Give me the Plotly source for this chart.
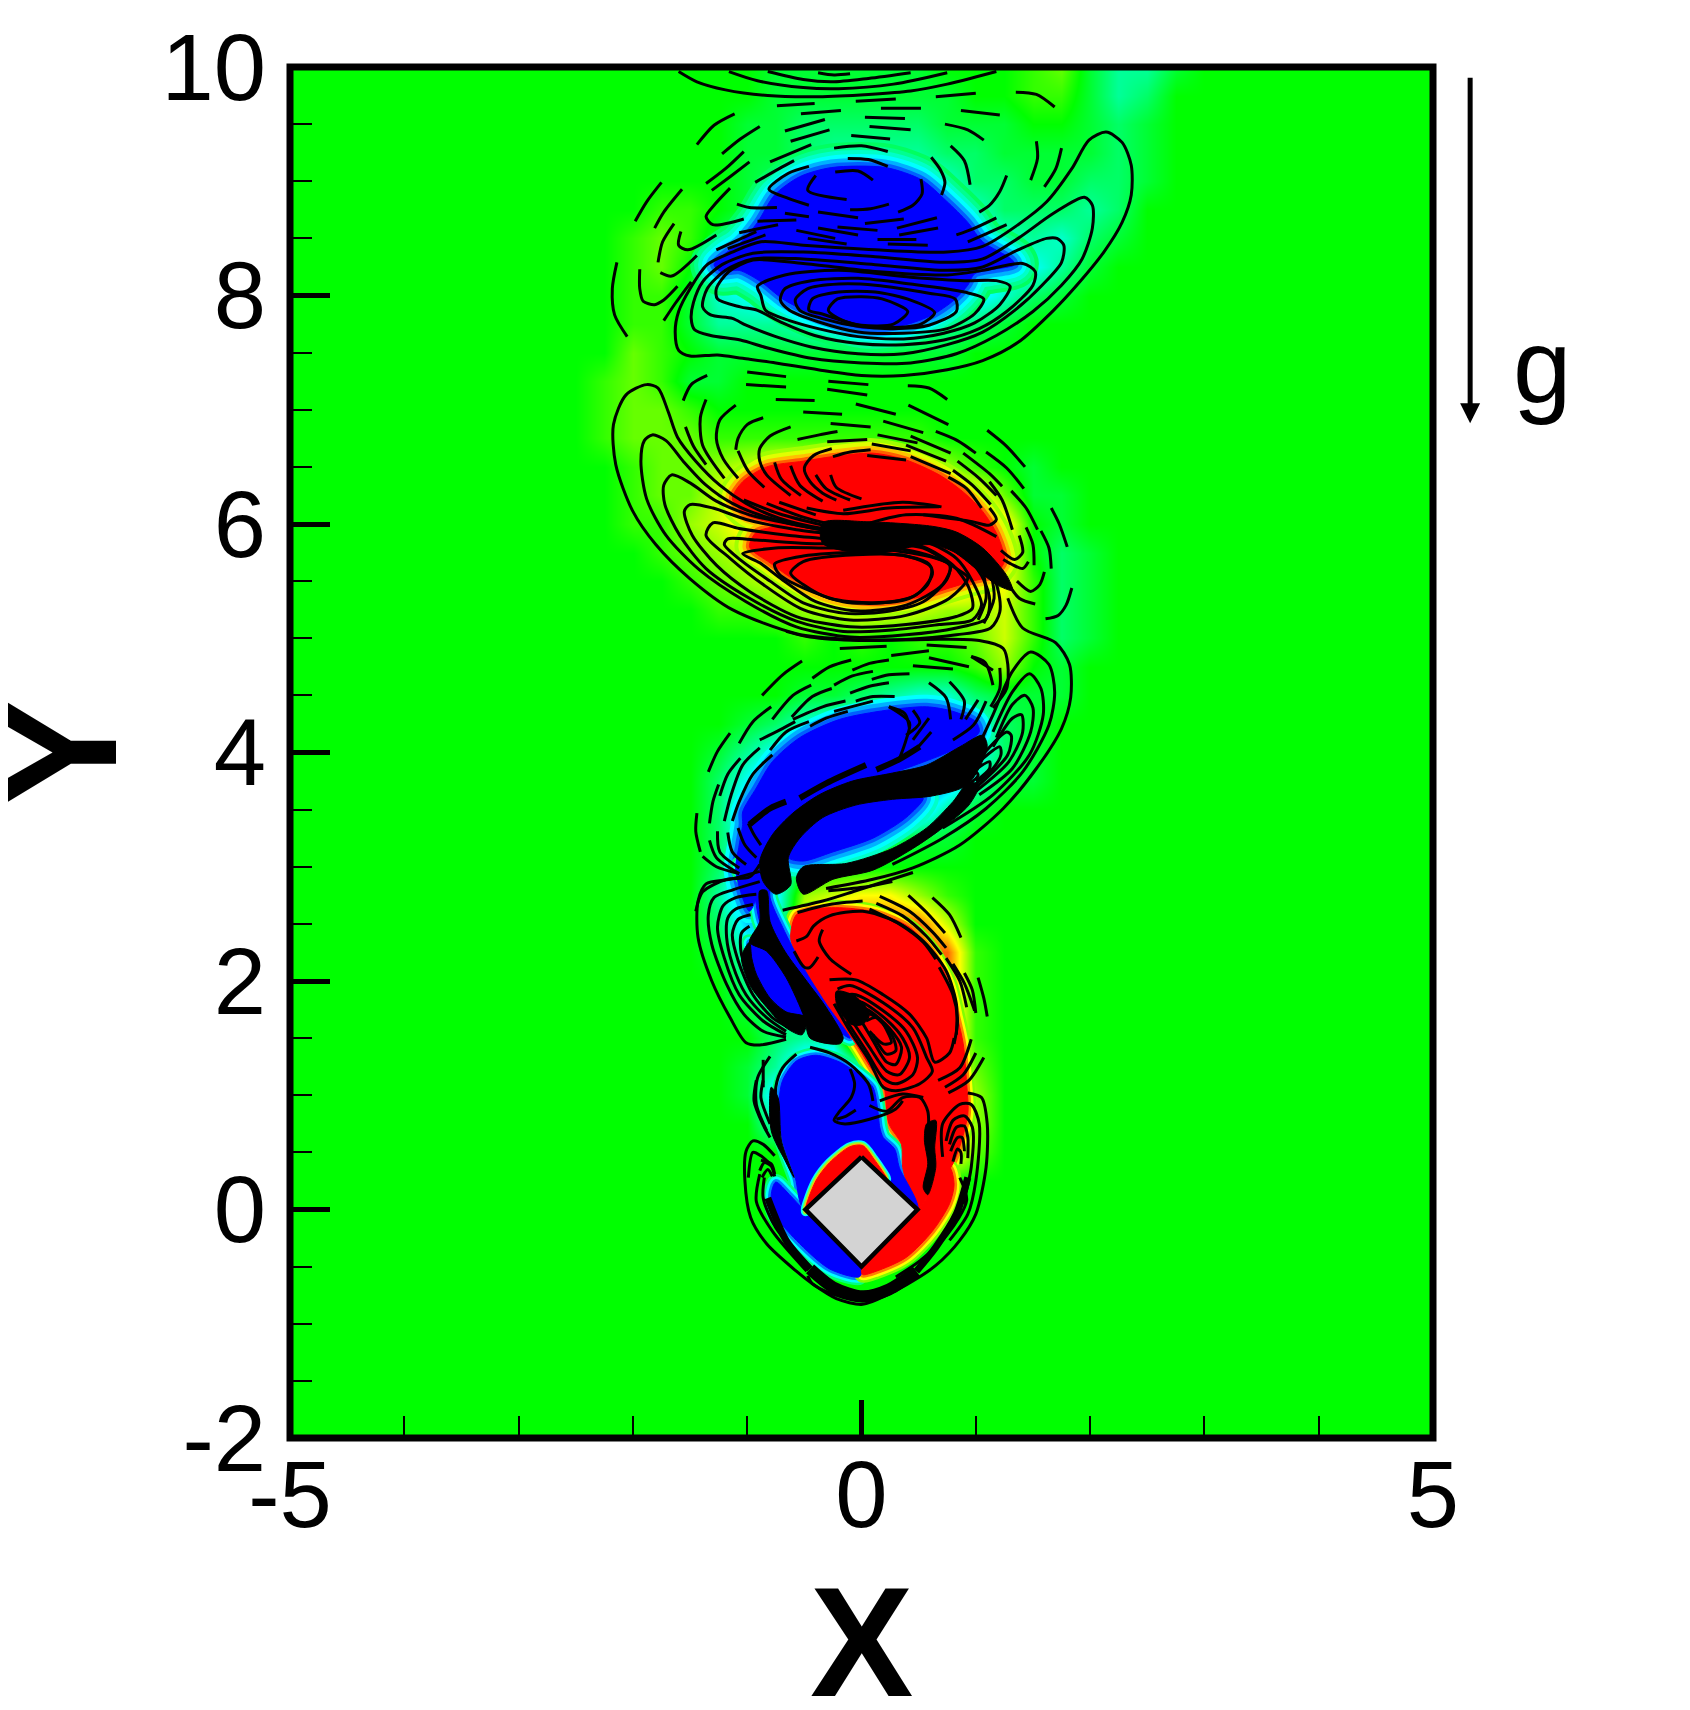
import plotly.graph_objects as go

# background field, tenths of the colour range, rows from y=10 down to y=-1
GRID_X = [-3, -2.75, -2.5, -2.25, -2, -1.75, -1.5, -1.25, -1, -.75, -.5, -.25, 0, .25, .5, .75, 1, 1.25, 1.5, 1.75, 2, 2.25, 2.5, 2.75, 3]
GRID_Y = [10, 9.75, 9.5, 9.25, 9, 8.75, 8.5, 8.25, 8, 7.75, 7.5, 7.25, 7, 6.75, 6.5, 6.25, 6, 5.75, 5.5, 5.25, 5, 4.75, 4.5, 4.25, 4, 3.75, 3.5, 3.25, 3, 2.75, 2.5, 2.25, 2, 1.75, 1.5, 1.25, 1, .75, .5, .25, 0, -.25, -.5, -.75, -1]
FIELD = [
    [0, 0, 0, 0, 0, 0, 0, 0, 0, -1, -1, -1, -1, -1, -1, 0, 0, 0, 1, 2, -1, -3, -3, -1, 0],
    [0, 0, 0, 0, 0, 0, 0, 0, 0, -1, -1, -1, -1, -1, -1, -1, 0, 0, 1, 1, -1, -3, -2, 0, 0],
    [0, 0, 0, 0, 0, 0, 0, 0, -1, -1, -2, -2, -2, -2, -2, -1, -1, -1, 0, 0, -1, -2, -1, 0, 0],
    [0, 0, 0, 0, 0, 0, 0, 0, -1, -1, -2, -3, -3, -3, -3, -2, -2, -1, -1, -1, -1, -2, -1, 0, 0],
    [0, 0, 0, 0, 0, 0, 0, 0, -1, -2, -4, -5, -6, -6, -5, -4, -2, -2, -1, -1, -2, -2, -1, 0, 0],
    [0, 0, 0, 0, 0, 1, 1, 0, -1, -4, -6, -8, -8, -8, -7, -5, -4, -2, -2, -2, -3, -2, 0, 0, 0],
    [0, 0, 0, 0, 1, 2, 1, -1, -4, -6, -8, -8, -8, -8, -8, -7, -5, -4, -3, -4, -2, -1, 0, 0, 0],
    [0, 0, 0, 0, 1, 2, 0, -3, -7, -8, -8, -8, -8, -8, -8, -8, -7, -5, -5, -3, -1, 0, 0, 0, 0],
    [0, 0, 0, 0, 1, 1, -1, -4, -5, -6, -7, -8, -8, -8, -8, -7, -6, -4, -2, -1, 0, 0, 0, 0, 0],
    [0, 0, 0, 0, 1, 1, -1, -3, -3, -3, -4, -5, -6, -5, -4, -3, -2, -1, 0, 0, 0, 0, 0, 0, 0],
    [0, 0, 0, 0, 2, 1, 0, -1, -1, -1, -1, -1, -1, -1, -1, -1, 0, 0, 0, 0, 0, 0, 0, 0, 0],
    [0, 0, 0, 1, 2, 1, -1, -1, 0, 0, 0, 0, 0, 0, 0, 0, 0, 0, 0, 0, 0, 0, 0, 0, 0],
    [0, 0, 0, 1, 2, 2, 1, 0, 0, 0, 0, 0, 0, 0, 0, 0, 0, 0, 0, 0, 0, 0, 0, 0, 0],
    [0, 0, 0, 1, 2, 2, 2, 1, 1, 1, 1, 1, 1, 1, 1, 0, 0, 0, 0, 0, 0, 0, 0, 0, 0],
    [0, 0, 0, 0, 1, 2, 2, 3, 4, 5, 5, 5, 5, 5, 4, 3, 1, 0, -1, 0, 0, 0, 0, 0, 0],
    [0, 0, 0, 0, 1, 2, 2, 4, 7, 8, 8, 8, 8, 8, 8, 8, 6, 2, -1, -1, 0, 0, 0, 0, 0],
    [0, 0, 0, 0, 1, 1, 3, 4, 6, 8, 8, 8, 8, 8, 8, 8, 8, 6, 0, -1, 0, 0, 0, 0, 0],
    [0, 0, 0, 0, 0, 1, 2, 3, 4, 6, 8, 8, 8, 8, 8, 8, 8, 6, 0, -2, -1, 0, 0, 0, 0],
    [0, 0, 0, 0, 0, 0, 1, 2, 3, 4, 6, 8, 8, 8, 8, 8, 6, 5, 1, -2, -1, 0, 0, 0, 0],
    [0, 0, 0, 0, 0, 0, 0, 1, 1, 2, 3, 4, 5, 5, 4, 3, 3, 4, 1, -2, -1, 0, 0, 0, 0],
    [0, 0, 0, 0, 0, 0, 0, 0, 0, 0, 1, 0, 1, 0, 1, 1, 2, 4, 1, -2, -1, 0, 0, 0, 0],
    [0, 0, 0, 0, 0, 0, 0, 0, 0, 0, 0, 0, 0, 0, 0, 0, 1, 3, 0, -1, 0, 0, 0, 0, 0],
    [0, 0, 0, 0, 0, 0, 0, 0, 0, 0, -1, -1, -2, -3, -4, -4, -2, -1, -1, -1, 0, 0, 0, 0, 0],
    [0, 0, 0, 0, 0, 0, 0, 0, -1, -2, -4, -5, -5, -5, -5, -5, -5, -2, -1, 0, 0, 0, 0, 0, 0],
    [0, 0, 0, 0, 0, 0, 0, -1, -3, -5, -5, -5, -5, -5, -5, -5, -5, -2, -1, 0, 0, 0, 0, 0, 0],
    [0, 0, 0, 0, 0, 0, 0, -2, -5, -8, -8, -8, -8, -8, -8, -7, -4, -1, -1, 0, 0, 0, 0, 0, 0],
    [0, 0, 0, 0, 0, 0, 0, -2, -7, -8, -8, -8, -8, -8, -7, -3, -1, 0, 0, 0, 0, 0, 0, 0, 0],
    [0, 0, 0, 0, 0, 0, 0, -2, -5, -6, -6, -4, -3, -2, -1, -1, 0, 0, 0, 0, 0, 0, 0, 0, 0],
    [0, 0, 0, 0, 0, 0, 0, -2, -7, -6, -1, 0, 0, 0, 0, 0, 0, 0, 0, 0, 0, 0, 0, 0, 0],
    [0, 0, 0, 0, 0, 0, 0, -3, -8, -6, 3, 4, 5, 5, 3, 1, 0, 0, 0, 0, 0, 0, 0, 0, 0],
    [0, 0, 0, 0, 0, 0, 0, -2, -6, -6, 5, 8, 8, 8, 8, 4, 0, 0, 0, 0, 0, 0, 0, 0, 0],
    [0, 0, 0, 0, 0, 0, 0, -1, -4, -4, 5, 8, 8, 8, 8, 8, 1, 0, 0, 0, 0, 0, 0, 0, 0],
    [0, 0, 0, 0, 0, 0, 0, 0, -3, -6, 3, 8, 8, 8, 8, 8, 1, 0, 0, 0, 0, 0, 0, 0, 0],
    [0, 0, 0, 0, 0, 0, 0, 0, -1, -3, -4, 5, 8, 8, 8, 8, 1, 0, 0, 0, 0, 0, 0, 0, 0],
    [0, 0, 0, 0, 0, 0, 0, 0, 0, -2, -3, -3, 8, 8, 8, 8, 1, 0, 0, 0, 0, 0, 0, 0, 0],
    [0, 0, 0, 0, 0, 0, 0, 0, -1, -3, -7, -8, -4, 8, 8, 8, 2, 0, 0, 0, 0, 0, 0, 0, 0],
    [0, 0, 0, 0, 0, 0, 0, 0, -1, -6, -8, -8, -8, 8, 8, 8, 3, 0, 0, 0, 0, 0, 0, 0, 0],
    [0, 0, 0, 0, 0, 0, 0, 0, 0, -4, -8, -8, -8, 4, 8, 8, 3, 0, 0, 0, 0, 0, 0, 0, 0],
    [0, 0, 0, 0, 0, 0, 0, 0, 0, 0, -2, -2, -2, 0, 4, 8, 2, 0, 0, 0, 0, 0, 0, 0, 0],
    [0, 0, 0, 0, 0, 0, 0, 0, 0, 0, 0, 0, 0, 0, 0, 0, 0, 0, 0, 0, 0, 0, 0, 0, 0],
    [0, 0, 0, 0, 0, 0, 0, 0, 0, 0, 0, 0, 0, 0, 0, 0, 0, 0, 0, 0, 0, 0, 0, 0, 0],
    [0, 0, 0, 0, 0, 0, 0, 0, 0, 0, 0, 0, 0, 0, 0, 0, 0, 0, 0, 0, 0, 0, 0, 0, 0],
    [0, 0, 0, 0, 0, 0, 0, 0, 0, 0, 0, 0, 0, 0, 0, 0, 0, 0, 0, 0, 0, 0, 0, 0, 0],
    [0, 0, 0, 0, 0, 0, 0, 0, 0, 0, 0, 0, 0, 0, 0, 0, 0, 0, 0, 0, 0, 0, 0, 0, 0],
    [0, 0, 0, 0, 0, 0, 0, 0, 0, 0, 0, 0, 0, 0, 0, 0, 0, 0, 0, 0, 0, 0, 0, 0, 0],
]

# saturated patches
BLUE_TOP = [(-1.07, 8.45), (-.91, 8.64), (-.76, 8.88), (-.54, 9.04), (-.26, 9.12), (.21, 9.12), (.53, 9.01), (.74, 8.83), (.93, 8.64), (1.06, 8.47), (1.31, 8.32), (1.34, 8.27), (.99, 8.19), (.93, 8.09), (.81, 7.96), (.62, 7.83), (.37, 7.74), (.03, 7.71), (-.26, 7.78), (-.48, 7.86), (-.69, 7.97), (-.88, 8.12), (-1.07, 8.22), (-1.23, 8.21), (-1.29, 8.27), (-1.19, 8.37)]
RED_MID = [(-1.13, 6.22), (-1.04, 6.37), (-.83, 6.50), (-.51, 6.55), (-.25, 6.59), (.10, 6.62), (.39, 6.56), (.68, 6.43), (.89, 6.28), (1.06, 6.11), (1.19, 5.90), (1.25, 5.67), (1.15, 5.55), (.97, 5.50), (.77, 5.44), (.51, 5.36), (.10, 5.31), (-.28, 5.37), (-.60, 5.52), (-.80, 5.66), (-.98, 5.80), (-.92, 5.93), (-.75, 5.99), (-1.01, 6.08)]
BLUE_UP = [(-1.04, 3.48), (-.92, 3.69), (-.78, 3.92), (-.54, 4.13), (-.19, 4.29), (.22, 4.37), (.57, 4.40), (.80, 4.36), (1.00, 4.27), (1.03, 4.18), (.86, 4.05), (.27, 3.82), (-.37, 3.63), (-.78, 3.28), (-.89, 3.05), (-.89, 2.84), (-.98, 2.61), (-1.10, 2.96), (-1.07, 3.19), (-1.04, 3.37)]
BLUE_LOW = [(-.64, 3.08), (-.57, 3.25), (-.34, 3.43), (-.05, 3.54), (.27, 3.59), (.54, 3.60), (.39, 3.43), (.10, 3.25), (-.25, 3.13), (-.51, 3.05)]
BLUE_NECK = [(-1.07, 3.02), (-.80, 3.02), (-.80, 2.73), (-.69, 2.47), (-.51, 2.12), (-.31, 1.80), (-.10, 1.50), (-.28, 1.62), (-.51, 1.88), (-.72, 2.17), (-.89, 2.52), (-.95, 2.79), (-1.07, 2.96)]
BLUE_LENS = [(-.98, 2.34), (-.83, 2.26), (-.66, 2.06), (-.48, 1.71), (-.66, 1.73), (-.80, 1.85), (-.92, 2.06), (-.96, 2.20)]
BLUE_BASE = [(-.72, .95), (-.69, 1.13), (-.57, 1.30), (-.40, 1.35), (-.19, 1.29), (-.02, 1.18), (.10, 1.07), (.14, .89), (.16, .72), (.19, .63), (.29, .53), (.33, .37), (.49, -.02), (-.49, -.02), (-.58, .28), (-.69, .60)]
BLUE_RIBBON = [(-.75, .24), (-.79, .13), (-.76, -.04), (-.57, -.27), (-.28, -.52), (-.02, -.59), (0, -.53), (-.49, -.02), (-.63, .13)]
RED_BIG = [(-.62, 2.38), (-.57, 2.58), (-.43, 2.63), (-.16, 2.64), (.13, 2.60), (.42, 2.47), (.62, 2.26), (.77, 1.97), (.84, 1.68), (.89, 1.45), (.92, 1.10), (.93, .83), (.80, .40), (.58, .12), (.49, 0), (.36, .37), (.35, .57), (.24, .75), (.19, 1.10), (.10, 1.21), (-.05, 1.45), (-.22, 1.68), (-.40, 1.94), (-.54, 2.17)]
RED_CAP = [(-.49, -.02), (-.40, .25), (-.28, .41), (-.10, .55), (.01, .56), (.11, .44), (.22, .27), (0, .44)]
RED_RIBBON = [(0, -.53), (.48, -.03), (.58, .12), (.65, .28), (.77, .37), (.81, .22), (.77, .05), (.62, -.19), (.39, -.42), (.13, -.54), (.01, -.57)]

# places where the contours run together
DENSE_MID = [(-.34, 6.01), (.04, 6.02), (.62, 5.98), (.83, 5.93), (1.06, 5.79), (1.27, 5.55), (1.32, 5.42), (1.18, 5.47), (1.00, 5.61), (.80, 5.76), (.59, 5.82), (.10, 5.74), (-.34, 5.83)]
DENSE_HATCH = [(-.51, 3.00), (-.13, 3.03), (.27, 3.16), (.57, 3.34), (.80, 3.57), (.93, 3.73), (1.03, 3.72), (.94, 3.54), (.71, 3.34), (.45, 3.16), (.10, 2.97), (-.25, 2.89), (-.51, 2.76), (-.57, 2.90)]
DENSE_BAND = [(-.89, 3.05), (-.78, 3.28), (-.60, 3.47), (-.37, 3.63), (-.08, 3.75), (.27, 3.82), (.57, 3.89), (.86, 4.05), (1.06, 4.15), (1.10, 4.05), (.93, 3.72), (.62, 3.62), (.27, 3.59), (-.05, 3.54), (-.34, 3.43), (-.54, 3.25), (-.64, 3.08), (-.62, 2.84), (-.75, 2.76), (-.86, 2.87)]
DENSE_NECK = [(-.89, 2.79), (-.83, 2.79), (-.80, 2.52), (-.67, 2.26), (-.48, 2.00), (-.31, 1.77), (-.16, 1.50), (-.19, 1.45), (-.45, 1.50), (-.50, 1.68), (-.66, 2.03), (-.83, 2.26), (-.98, 2.34), (-.89, 2.52)]
DENSE_LENS = [(-.98, 2.34), (-1.05, 2.21), (-.98, 1.97), (-.83, 1.77), (-.66, 1.59), (-.52, 1.53), (-.48, 1.68), (-.66, 1.73), (-.80, 1.85), (-.92, 2.06), (-.96, 2.20)]
DENSE_SPIRAL = [(-.22, 1.91), (-.06, 1.87), (.07, 1.71), (.01, 1.62), (-.09, 1.62), (-.21, 1.77)]
DENSE_RIGHT = [(.57, .75), (.65, .78), (.64, .54), (.65, .37), (.58, .13), (.54, .19), (.58, .40), (.55, .61)]
DENSE_LEFT = [(-.79, 1.07), (-.73, .98), (-.70, .60), (-.59, .28), (-.67, .43), (-.79, .69)]
BASE_RING = [(-.45, -.52), (-.25, -.68), (.01, -.76), (.24, -.70), (.48, -.54)]
BASE_SIDES = [
    [(-.82, .10), (-.66, -.27), (-.45, -.52)],
    [(.48, -.54), (.65, -.33), (.83, -.04), (.93, .28)],
]
THICK_SPURS = [
    [(-.98, 3.37), (-.80, 3.51), (-.66, 3.57)],
    [(-.54, 3.60), (-.31, 3.73), (.04, 3.89)],
    [(.13, 3.85), (.33, 3.94), (.51, 4.05)],
]

# closed solid contours
CLOSED_TOP = [
    [(2.14, 9.43), (2.28, 9.34), (2.36, 9.14), (2.36, 8.88), (2.28, 8.64), (2.12, 8.38), (1.91, 8.12), (1.68, 7.87), (1.37, 7.59), (1.06, 7.43), (.75, 7.35), (.37, 7.30), (0, 7.30), (-.38, 7.35), (-.75, 7.41), (-1.04, 7.45), (-1.26, 7.48), (-1.50, 7.47), (-1.60, 7.52), (-1.63, 7.68), (-1.60, 7.86), (-1.50, 8.06), (-1.35, 8.27), (-1.13, 8.38), (-.88, 8.47), (-.51, 8.44), (.12, 8.40), (.75, 8.38), (1.06, 8.43), (1.37, 8.62), (1.62, 8.82), (1.84, 9.11), (1.99, 9.36)],
    [(1.95, 8.86), (2.02, 8.79), (2.02, 8.59), (1.93, 8.32), (1.75, 8.09), (1.50, 7.86), (1.18, 7.65), (.83, 7.49), (.43, 7.41), (0, 7.41), (-.44, 7.45), (-.82, 7.54), (-1.06, 7.61), (-1.32, 7.65), (-1.46, 7.70), (-1.49, 7.80), (-1.47, 7.94), (-1.39, 8.12), (-1.22, 8.27), (-.95, 8.37), (-.51, 8.38), (.12, 8.34), (.75, 8.29), (1.06, 8.32), (1.37, 8.50), (1.68, 8.72)],
    [(1.71, 8.50), (1.77, 8.44), (1.75, 8.29), (1.58, 8.09), (1.34, 7.87), (1.06, 7.68), (.75, 7.57), (.37, 7.49), (-.03, 7.49), (-.44, 7.55), (-.75, 7.64), (-1.01, 7.74), (-1.13, 7.80), (-1.32, 7.83), (-1.39, 7.90), (-1.35, 8.06), (-1.19, 8.22), (-.95, 8.32), (-.51, 8.32), (.12, 8.27), (.75, 8.22), (1.06, 8.25), (1.37, 8.40), (1.62, 8.50)],
    [(1.41, 8.28), (1.52, 8.21), (1.50, 8.09), (1.27, 7.86), (1.03, 7.71), (.72, 7.61), (.37, 7.57), (-.03, 7.58), (-.41, 7.65), (-.69, 7.76), (-.91, 7.87), (-1.06, 7.90), (-1.26, 7.97), (-1.27, 8.06), (-1.16, 8.21), (-.95, 8.31), (-.51, 8.28), (.12, 8.21), (.75, 8.18), (1.06, 8.22)],
    [(1.18, 8.13), (1.30, 8.08), (1.21, 7.92), (.99, 7.76), (.72, 7.67), (.37, 7.62), (-.03, 7.64), (-.38, 7.71), (-.63, 7.78), (-.84, 7.87), (-.88, 8.00), (-.91, 8.08), (-.67, 8.18), (-.20, 8.22), (.43, 8.16), (.90, 8.13)],
    [(1.07, 7.97), (.99, 7.84), (.75, 7.71), (.37, 7.67), (-.03, 7.68), (-.38, 7.77), (-.63, 7.87), (-.71, 7.96), (-.67, 8.06), (-.44, 8.13), (-.03, 8.15), (.43, 8.10), (.90, 8.03)],
    [(.82, 7.97), (.83, 7.86), (.59, 7.74), (.28, 7.71), (-.03, 7.73), (-.35, 7.80), (-.54, 7.87), (-.58, 7.96), (-.47, 8.06), (-.20, 8.10), (.12, 8.09), (.59, 8.02)],
    [(.64, 7.85), (.52, 7.75), (.24, 7.72), (-.03, 7.74), (-.35, 7.84), (-.46, 7.87), (-.43, 7.97), (-.20, 8.03), (.12, 8.03), (.43, 7.96)],
    [(.405, 7.86), (.28, 7.75), (0, 7.74), (-.16, 7.78), (-.29, 7.87), (-.21, 7.97), (0, 7.99), (.18, 7.97)],
]
CLOSED_MID = [
    [(-1.88, 7.22), (-1.78, 7.19), (-1.69, 6.98), (-1.61, 6.76), (-1.45, 6.55), (-1.24, 6.34), (-1.01, 6.18), (-.72, 6.05), (-.34, 5.96), (.24, 5.91), (.68, 5.89), (.94, 5.79), (1.12, 5.61), (1.19, 5.44), (1.21, 5.23), (1.13, 5.09), (.83, 5.03), (.39, 4.99), (-.10, 4.99), (-.57, 5.04), (-1.13, 5.25), (-1.50, 5.52), (-1.80, 5.82), (-2.00, 6.11), (-2.15, 6.52), (-2.17, 6.87), (-2.06, 7.13)],
    [(-1.83, 6.78), (-1.71, 6.73), (-1.56, 6.55), (-1.36, 6.34), (-1.13, 6.18), (-.80, 6.05), (-.34, 5.95), (.24, 5.90), (.65, 5.86), (.89, 5.74), (1.05, 5.55), (1.12, 5.35), (1.09, 5.17), (.83, 5.09), (.39, 5.03), (-.10, 5.01), (-.57, 5.10), (-1.01, 5.32), (-1.42, 5.60), (-1.71, 5.90), (-1.88, 6.22), (-1.93, 6.55), (-1.90, 6.73)],
    [(-1.66, 6.43), (-1.50, 6.36), (-1.27, 6.20), (-.98, 6.08), (-.57, 5.99), (-.05, 5.90), (.54, 5.85), (.83, 5.70), (.97, 5.50), (1.05, 5.29), (.97, 5.16), (.68, 5.12), (.24, 5.07), (-.16, 5.06), (-.57, 5.15), (-.98, 5.35), (-1.36, 5.61), (-1.59, 5.90), (-1.72, 6.17), (-1.73, 6.34)],
    [(-1.50, 6.17), (-1.30, 6.14), (-1.01, 6.04), (-.57, 5.95), (-.05, 5.89), (.54, 5.80), (.80, 5.64), (.94, 5.44), (.97, 5.26), (.83, 5.19), (.39, 5.12), (-.10, 5.10), (-.57, 5.19), (-.98, 5.41), (-1.27, 5.64), (-1.48, 5.90), (-1.55, 6.11)],
    [(-1.30, 6.01), (-1.07, 5.96), (-.63, 5.90), (-.05, 5.85), (.54, 5.79), (.83, 5.61), (.93, 5.53), (.77, 5.35), (.39, 5.20), (-.10, 5.16), (-.51, 5.25), (-.86, 5.47), (-1.15, 5.70), (-1.36, 5.90)],
    [(-1.17, 5.87), (-.92, 5.86), (-.48, 5.83), (.10, 5.82), (.54, 5.74), (.77, 5.64), (.75, 5.52), (.54, 5.32), (.19, 5.23), (-.16, 5.22), (-.51, 5.31), (-.80, 5.50), (-1.04, 5.67), (-1.20, 5.82)],
    [(-1.04, 5.74), (-.75, 5.79), (-.34, 5.79), (.19, 5.78), (.65, 5.70), (.78, 5.64), (.71, 5.47), (.39, 5.29), (-.05, 5.24), (-.40, 5.32), (-.69, 5.51), (-.89, 5.66)],
    [(-.76, 5.65), (-.51, 5.72), (-.05, 5.75), (.39, 5.72), (.59, 5.65), (.62, 5.56), (.48, 5.38), (.19, 5.31), (-.16, 5.32), (-.51, 5.44), (-.72, 5.56)],
    [(-.62, 5.57), (-.51, 5.67), (-.05, 5.73), (.39, 5.72), (.61, 5.62), (.58, 5.47), (.42, 5.35), (.10, 5.31), (-.28, 5.35), (-.51, 5.47)],
]

# open solid contours
OPEN_TOP = [
    [(-1.60, 9.96), (-1.44, 9.87), (-1.19, 9.80), (-.82, 9.75), (-.38, 9.74), (.06, 9.76), (.43, 9.79), (.75, 9.85), (.99, 9.91), (1.18, 9.96)],
    [(-1.16, 9.96), (-.91, 9.88), (-.51, 9.82), (-.20, 9.81), (.28, 9.85), (.75, 9.95)],
    [(-.82, 9.96), (-.51, 9.89), (-.26, 9.87), (.06, 9.90), (.43, 9.95)],
    [(-.38, 9.95), (-.24, 9.93), (-.10, 9.94)],
]
OPEN_MID = [
    [(-1.03, 6.21), (-.72, 6.09), (-.34, 5.99)],
    [(-.83, 6.18), (-.51, 6.06), (-.28, 6.00)],
    [(-.72, 6.19), (-.40, 6.08)],
    [(-.48, 6.14), (-.16, 6.09), (.24, 6.14), (.68, 6.15)],
    [(-.16, 6.12), (.36, 6.19), (.70, 6.15)],
    [(.01, 5.99), (.39, 6.08), (.83, 6.05), (1.18, 5.89)],
    [(.54, 6.08), (.97, 6.02), (1.12, 5.99), (1.18, 6.04), (1.12, 6.14)],
    [(1.13, 5.58), (1.16, 5.35), (1.07, 5.13)],
    [(1.06, 5.61), (1.09, 5.35), (1.02, 5.16)],
]
OPEN_LOBES = [
    [(1.28, 5.35), (1.41, 5.09), (1.70, 4.96), (1.82, 4.77), (1.83, 4.48), (1.75, 4.21), (1.53, 3.86), (1.24, 3.51), (.86, 3.19), (.45, 2.99), (.10, 2.89), (-.31, 2.81)],
    [(1.03, 4.07), (1.15, 4.33), (1.32, 4.71), (1.48, 4.88), (1.64, 4.77), (1.69, 4.53), (1.64, 4.24), (1.41, 3.83), (1.09, 3.51), (.71, 3.25), (.27, 3.02)],
    [(1.15, 4.18), (1.32, 4.53), (1.47, 4.69), (1.57, 4.56), (1.59, 4.33), (1.47, 3.98), (1.15, 3.63), (.71, 3.34)],
    [(1.18, 4.13), (1.32, 4.42), (1.43, 4.50), (1.50, 4.39), (1.48, 4.18), (1.32, 3.86), (1.03, 3.63)],
    [(1.15, 4.05), (1.32, 4.30), (1.40, 4.33), (1.41, 4.18), (1.29, 3.92), (1.00, 3.66)],
    [(1.06, 3.98), (1.27, 4.18), (1.31, 4.15), (1.28, 3.98), (1.00, 3.69)],
    [(1.03, 3.92), (1.21, 4.05), (1.22, 3.98), (1.15, 3.86), (.92, 3.66)],
    [(.97, 3.83), (1.12, 3.92), (1.12, 3.86), (1.00, 3.75)],
    [(.86, 3.78), (1.00, 3.83), (1.02, 3.80), (.94, 3.72)],
    [(-.66, 5.06), (-.45, 5.01), (-.02, 4.98), (.57, 4.99), (1.03, 4.98), (1.24, 4.91), (1.28, 4.77), (1.27, 4.56), (1.15, 4.39)],
    [(-1.45, 2.61), (-1.39, 2.78), (-1.18, 2.89), (-.98, 2.91), (-.89, 3.02)],
    [(.33, 3.94), (.39, 4.11), (.42, 4.26), (.24, 4.40)],
    [(.39, 4.15), (.51, 4.26), (.45, 4.37)],
    [(.45, 4.11), (.59, 4.30)],
    [(.48, 4.03), (.61, 4.18)],
]
OPEN_NECK = [
    [(-.89, 2.96), (-1.15, 2.89), (-1.36, 2.85), (-1.43, 2.70), (-1.43, 2.38), (-1.31, 2.00), (-1.15, 1.68), (-1.01, 1.46), (-.89, 1.44), (-.66, 1.49)],
    [(-.89, 2.87), (-1.12, 2.80), (-1.29, 2.73), (-1.34, 2.58), (-1.31, 2.32), (-1.18, 1.97), (-1.03, 1.71), (-.86, 1.56), (-.66, 1.51)],
    [(-.92, 2.76), (-1.10, 2.73), (-1.21, 2.66), (-1.26, 2.47), (-1.20, 2.20), (-1.07, 1.88), (-.86, 1.65), (-.66, 1.53)],
    [(-.95, 2.67), (-1.10, 2.63), (-1.17, 2.55), (-1.18, 2.38), (-1.13, 2.15), (-1.01, 1.88), (-.83, 1.68), (-.66, 1.56)],
    [(-.97, 2.58), (-1.08, 2.54), (-1.13, 2.41), (-1.08, 2.18), (-.95, 1.88), (-.78, 1.68), (-.63, 1.59)],
    [(-.98, 2.48), (-1.05, 2.42), (-1.05, 2.23), (-.92, 1.94), (-.78, 1.74)],
    [(-.28, 2.01), (-.05, 2.01), (.19, 1.88), (.42, 1.71), (.57, 1.50), (.64, 1.29), (.77, 1.37), (.81, 1.50)],
    [(-.21, 1.93), (-.10, 1.96), (.19, 1.81), (.45, 1.59), (.57, 1.33), (.62, 1.21), (.51, 1.10), (.30, 1.04), (.19, 1.07), (.07, 1.30), (-.10, 1.56), (-.24, 1.80)],
    [(-.19, 1.87), (-.05, 1.88), (.19, 1.74), (.39, 1.56), (.49, 1.33), (.45, 1.18), (.30, 1.10), (.19, 1.15), (.04, 1.39), (-.13, 1.65)],
    [(-.13, 1.84), (.01, 1.81), (.22, 1.66), (.36, 1.50), (.42, 1.33), (.33, 1.18), (.22, 1.21), (.07, 1.42), (-.08, 1.65)],
    [(-.08, 1.80), (.07, 1.74), (.24, 1.59), (.35, 1.42), (.30, 1.27), (.22, 1.29), (.10, 1.48), (-.02, 1.68)],
    [(-.02, 1.75), (.13, 1.68), (.27, 1.52), (.30, 1.39), (.22, 1.36), (.10, 1.53)],
    [(.04, 1.65), (.14, 1.68), (.24, 1.53), (.26, 1.46), (.19, 1.45), (.07, 1.56)],
    [(-.57, 2.35), (-.48, 2.39), (-.42, 2.48), (-.28, 2.57), (.01, 2.61), (.30, 2.52), (.54, 2.35), (.74, 2.09), (.83, 1.80), (.83, 1.53)],
    [(-.34, 2.45), (-.37, 2.35), (-.28, 2.20), (-.09, 2.06)],
    [(-.38, 2.21), (-.45, 2.12), (-.50, 2.12), (-.59, 2.26)],
    [(-.69, 2.62), (-.34, 2.70), (-.05, 2.79), (.45, 2.95)],
    [(-.56, 2.60), (-.28, 2.67), (.01, 2.70)],
    [(-.29, 2.79), (.01, 2.82), (.27, 2.87)],
]
OPEN_BASE = [
    [(-.10, 1.23), (-.06, 1.10), (-.09, .98), (-.19, .86), (-.24, .78), (-.16, .75), (.07, .79), (.30, .88), (.36, .95)],
    [(-.22, .79), (-.13, .82), (-.05, .87)],
    [(.07, .91), (.22, .86), (.36, .98), (.51, .98), (.58, .86), (.58, .60)],
    [(.16, .95), (.36, 1.01), (.54, .98)],
    [(-.80, 1.34), (-.91, 1.15), (-.92, .92), (-.83, .69)],
    [(-.86, 1.31), (-.86, 1.18), (-.86, 1.07)],
    [(-.57, 1.36), (-.69, 1.24), (-.75, 1.07), (-.73, .69)],
    [(-.45, 1.42), (-.28, 1.37), (-.10, 1.27), (.06, 1.10), (.10, .95)],
    [(.93, 1.02), (1.05, .98), (1.10, .75), (1.09, .37), (1.00, -.04), (.86, -.27), (.65, -.49), (.46, -.62), (.24, -.74), (.01, -.83), (-.22, -.78), (-.43, -.65), (-.57, -.54), (-.83, -.30), (-.97, -.07), (-1.02, .25), (-1.01, .51), (-.95, .60), (-.86, .57), (-.76, .47)],
    [(.71, .46), (.71, .75), (.86, .92), (.96, .92), (1.03, .75), (1.00, .25), (.93, -.04), (.77, -.27)],
    [(.74, .60), (.80, .78), (.90, .82), (.97, .72), (.96, .37), (.89, .05)],
    [(.77, .57), (.83, .72), (.90, .73), (.93, .63), (.93, .45)],
    [(.78, .51), (.84, .63), (.88, .63), (.90, .51)],
    [(.80, .42), (.84, .53), (.87, .50), (.87, .40)],
    [(-.99, .28), (-.95, .50), (-.88, .47), (-.78, .38)],
    [(-.89, .34), (-.85, .41), (-.79, .38), (-.76, .29)],
    [(-.87, .28), (-.82, .35), (-.78, .29)],
    [(-.88, .43), (-.79, .40), (-.76, .31)],
    [(-.92, 1.13), (-.94, .95), (-.86, .74), (-.80, .63)],
    [(-.86, 1.13), (-.88, .98), (-.80, .75)],
    [(-.89, .31), (-.92, .07), (-.78, -.19), (-.48, -.54)],
    [(-.85, .28), (-.86, .10), (-.75, -.16), (-.45, -.51)],
    [(.86, .28), (.92, .08), (.75, -.22), (.51, -.45), (.30, -.59)],
    [(-.47, -.58), (-.43, -.65), (-.25, -.74), (.01, -.80), (.25, -.72), (.45, -.60), (.47, -.57)],
]

# dashes of the negative contours
DASH_TOP = [
    [(-.74, 9.66), (-.41, 9.68)], [(-.05, 9.70), (.30, 9.72)], [(.65, 9.74), (1.00, 9.77)], [(1.35, 9.78), (1.53, 9.76), (1.69, 9.65)],
    [(-.53, 9.59), (-.18, 9.62)], [(.17, 9.64), (.52, 9.64)], [(.87, 9.62), (1.21, 9.58)], [(-.67, 9.44), (-.32, 9.54)],
    [(.03, 9.56), (.38, 9.55)], [(.07, 9.48), (.43, 9.45)], [(.73, 9.50), (.93, 9.45), (1.07, 9.36)], [(-.62, 9.35), (-.28, 9.45)],
    [(-1.44, 9.32), (-1.29, 9.49), (-1.11, 9.59)], [(-1.22, 9.24), (-1.06, 9.37), (-.89, 9.48)], [(-.09, 9.40), (.25, 9.37)],
    [(-.80, 9.17), (-.44, 9.32)], [(-.24, 9.29), (0, 9.31), (.23, 9.26)], [(.78, 9.31), (.90, 9.18), (.95, 8.97)],
    [(1.53, 9.35), (1.54, 9.20), (1.48, 9.01)], [(1.75, 9.29), (1.70, 9.11), (1.60, 8.95)], [(.61, 9.21), (.69, 9.10), (.73, 8.99), (.70, 8.88)],
    [(-.12, 9.20), (.06, 9.19), (.23, 9.13)], [(-1.36, 8.98), (-1.19, 9.11), (-1.03, 9.26)], [(-1.31, 8.92), (-1.15, 9.04), (-.98, 9.17)],
    [(-.93, 8.99), (-.72, 9.11), (-.59, 9.18)], [(-.23, 9.08), (-.03, 9.09), (.10, 9.01)],
    [(-.46, 9.13), (-.64, 9.07), (-.81, 8.93), (-.64, 8.85), (-.46, 8.79)], [(-.40, 9.05), (-.47, 8.92), (-.13, 8.84)],
    [(.52, 9.02), (.53, 8.89), (.45, 8.79), (.32, 8.73)], [(.24, 8.80), (.08, 8.76), (-.10, 8.75)], [(1.27, 9.05), (1.21, 8.91), (1.12, 8.79), (1.03, 8.73)],
    [(-1.15, 8.94), (-1.29, 8.79), (-1.36, 8.69), (-1.30, 8.62), (-1.03, 8.67)], [(-1.09, 8.80), (-.98, 8.77), (-.74, 8.77)],
    [(-1.75, 8.99), (-1.88, 8.82), (-1.98, 8.65)], [(-1.57, 8.93), (-1.73, 8.73), (-1.81, 8.59)], [(-1.64, 8.63), (-1.74, 8.47), (-1.78, 8.29)],
    [(-.67, 8.72), (-.46, 8.69)], [(-.38, 8.73), (-.03, 8.68)], [(-.91, 8.65), (-.57, 8.66)], [(.03, 8.63), (.37, 8.67)], [(.31, 8.59), (.66, 8.68)],
    [(1.18, 8.68), (.99, 8.59), (.83, 8.53)], [(1.27, 8.62), (1.09, 8.54), (.93, 8.47)], [(-.21, 8.60), (.14, 8.57)], [(.33, 8.53), (.67, 8.59)],
    [(-1.07, 8.55), (-.73, 8.62)], [(-.57, 8.57), (-.23, 8.50)], [(-.38, 8.59), (-.03, 8.53)], [(-.47, 8.50), (-.13, 8.45)],
    [(.14, 8.49), (.48, 8.49)], [(.23, 8.45), (.58, 8.44)], [(-1.58, 8.56), (-1.60, 8.44), (-1.52, 8.40), (-1.27, 8.53)],
    [(-1.27, 8.40), (-.92, 8.56)], [(-1.17, 8.41), (-.84, 8.53)], [(-1.76, 8.20), (-1.66, 8.17), (-1.44, 8.35)],
    [(-1.94, 8.23), (-1.94, 8.06), (-1.91, 7.95), (-1.81, 7.92), (-1.73, 7.96), (-1.61, 8.08)], [(-1.73, 7.78), (-1.63, 7.93), (-1.49, 8.12)],
    [(-2.14, 8.29), (-2.18, 8.06), (-2.16, 7.83), (-2.05, 7.64)],
    [(-1.00, 7.33), (-.66, 7.29)], [(-1.01, 7.22), (-.66, 7.20)], [(-.29, 7.25), (.06, 7.22)], [(-.30, 7.18), (.05, 7.13)],
    [(.405, 7.21), (.59, 7.19), (.75, 7.09)], [(-.75, 7.09), (-.41, 7.08)], [(-1.35, 7.30), (-1.49, 7.22), (-1.56, 7.08)],
]
DASH_MID = [
    [(-1.36, 7.09), (-1.41, 6.93), (-1.39, 6.69), (-1.20, 6.40)], [(-1.54, 6.85), (-1.47, 6.68), (-1.36, 6.52)],
    [(-1.10, 7.04), (-1.24, 6.91), (-1.27, 6.75), (-1.21, 6.57), (-1.08, 6.40)], [(-.86, 6.93), (-1.00, 6.87), (-1.08, 6.75), (-1.10, 6.65)],
    [(-1.08, 6.64), (-.99, 6.46), (-.85, 6.32)], [(-.62, 6.85), (-.80, 6.77), (-.89, 6.66), (-.89, 6.55), (-.83, 6.43), (-.62, 6.25)],
    [(-.51, 6.98), (-.17, 6.96)], [(-.05, 7.05), (.30, 6.96)], [(.41, 7.04), (.76, 6.87)], [(-.27, 6.88), (.08, 6.85)], [(.19, 6.90), (.54, 6.80)],
    [(-.56, 6.74), (-.37, 6.78), (-.21, 6.81)], [(-.30, 6.72), (.05, 6.74)], [(.14, 6.78), (.49, 6.71)], [(.43, 6.77), (.78, 6.62)],
    [(.65, 6.81), (.84, 6.73), (1.00, 6.62)], [(1.10, 6.82), (1.27, 6.68), (1.43, 6.50)], [(.09, 6.70), (.43, 6.64)], [(.39, 6.69), (.74, 6.55)],
    [(-.25, 6.59), (-.10, 6.63), (.08, 6.65)], [(.05, 6.60), (.39, 6.56)], [(.43, 6.59), (.78, 6.44)],
    [(-.26, 6.66), (-.42, 6.60), (-.50, 6.49), (-.45, 6.37), (-.34, 6.27), (-.22, 6.21)], [(-.76, 6.54), (-.70, 6.39), (-.53, 6.25)],
    [(-.62, 6.51), (-.54, 6.34), (-.34, 6.20)], [(-.40, 6.43), (-.31, 6.31), (-.10, 6.21)], [(-.27, 6.43), (-.22, 6.32), (0, 6.22)],
    [(.89, 6.62), (1.12, 6.44), (1.23, 6.33)], [(.84, 6.55), (1.03, 6.40), (1.18, 6.25)], [(.80, 6.47), (.97, 6.34), (1.13, 6.17)],
    [(.76, 6.41), (.92, 6.31), (1.05, 6.14)], [(1.09, 6.63), (1.27, 6.49), (1.42, 6.31)], [(1.12, 6.37), (1.23, 6.21), (1.32, 5.95)],
    [(1.31, 6.29), (1.44, 6.14), (1.54, 5.95)], [(1.66, 6.14), (1.73, 6.00), (1.80, 5.80)], [(1.44, 5.97), (1.50, 5.82), (1.51, 5.64)],
    [(1.57, 5.94), (1.64, 5.79), (1.66, 5.61)], [(1.38, 5.90), (1.41, 5.75), (1.34, 5.69), (1.22, 5.77)], [(1.46, 5.67), (1.41, 5.61), (1.31, 5.65), (1.24, 5.69)],
    [(1.60, 5.58), (1.56, 5.47), (1.48, 5.41), (1.36, 5.50)], [(1.27, 5.50), (1.38, 5.35), (1.52, 5.30)], [(1.84, 5.44), (1.79, 5.29), (1.72, 5.20), (1.61, 5.17)],
    [(-.19, 4.91), (.22, 4.93)], [(.26, 4.85), (.59, 4.89)], [(.57, 4.94), (.92, 4.92)], [(.59, 4.83), (.94, 4.75)], [(.45, 4.76), (.80, 4.73)], [(.96, 4.84), (1.15, 4.72)],
]
DASH_LOW = [
    [(.96, 4.84), (1.08, 4.79), (1.15, 4.59)], [(1.21, 4.74), (1.21, 4.56), (1.13, 4.40)], [(-.52, 4.80), (-.69, 4.68), (-.87, 4.50)],
    [(-.09, 4.81), (-.28, 4.75), (-.43, 4.65)], [(.24, 4.81), (.07, 4.78), (-.08, 4.72)], [(.10, 4.71), (-.08, 4.67), (-.24, 4.59)],
    [(.42, 4.69), (.24, 4.68), (.09, 4.64)], [(.24, 4.61), (.07, 4.58), (-.10, 4.52)], [(-.44, 4.59), (-.60, 4.50), (-.78, 4.29)],
    [(-.26, 4.56), (-.43, 4.49), (-.61, 4.31)], [(.29, 4.49), (.10, 4.49), (-.05, 4.45)], [(.10, 4.45), (-.05, 4.41), (-.24, 4.36)],
    [(-.14, 4.45), (-.34, 4.40), (-.60, 4.29)], [(-.12, 4.36), (-.31, 4.30), (-.45, 4.23)], [(-.79, 4.40), (-.95, 4.27), (-1.07, 4.08)],
    [(-.58, 4.27), (-.71, 4.20), (-.89, 4.11)], [(-.46, 4.27), (-.66, 4.18), (-.80, 4.02)], [(-1.15, 4.17), (-1.26, 4.01), (-1.34, 3.83)],
    [(-1.06, 3.95), (-1.17, 3.81), (-1.24, 3.62)], [(-1.25, 3.72), (-1.30, 3.57), (-1.33, 3.38)], [(-1.44, 3.47), (-1.45, 3.31), (-1.41, 3.13)],
    [(-.89, 4.04), (-1.04, 3.89), (-1.14, 3.63), (-1.20, 3.40)], [(-.78, 3.98), (-.95, 3.81), (-1.07, 3.57), (-1.13, 3.40)],
    [(.59, 4.61), (.74, 4.48), (.78, 4.29)], [(.77, 4.62), (.90, 4.45), (.87, 4.29)], [(.24, 4.40), (.38, 4.34), (.42, 4.21)],
    [(1.09, 4.45), (.98, 4.24), (.80, 4.11)], [(1.02, 4.46), (.91, 4.29)], [(.99, 4.08), (.86, 4.02)],
    [(-1.26, 3.31), (-1.24, 3.13), (-1.07, 2.99)], [(-1.33, 3.23), (-1.27, 3.08), (-1.07, 2.94)], [(-1.17, 3.30), (-1.13, 3.13), (-1.01, 3.02)],
    [(-1.08, 3.34), (-1.02, 3.19), (-.92, 3.08)], [(-.99, 3.38), (-.94, 3.28), (-.88, 3.19)], [(-1.39, 3.09), (-1.27, 3.00), (-1.07, 2.94)],
    [(.16, 2.74), (.42, 2.61), (.62, 2.43), (.74, 2.29)], [(.41, 2.75), (.57, 2.60), (.73, 2.42)], [(.62, 2.73), (.77, 2.58), (.87, 2.38)],
    [(.13, 2.68), (.36, 2.57), (.57, 2.39), (.70, 2.23)], [(.07, 2.63), (.33, 2.50), (.54, 2.34), (.65, 2.19)], [(.74, 2.20), (.86, 2.00), (.92, 1.77)],
    [(.80, 2.15), (.90, 1.98), (.99, 1.74)], [(.90, 2.07), (.97, 1.92), (1.00, 1.72)], [(1.02, 2.03), (1.07, 1.85), (1.10, 1.69)],
    [(.68, 2.12), (.80, 1.88), (.84, 1.65), (.81, 1.45)], [(.96, 1.49), (.86, 1.24), (.67, 1.13)], [(1.00, 1.37), (.89, 1.18), (.73, 1.07)], [(1.07, 1.33), (.94, 1.13), (.76, 1.02)],
]

DIAMOND_X = [0, .49, 0, -.49, 0]
DIAMOND_Y = [.46, 0, -.5, 0, .46]

X_TICKS = [-5, 0, 5]
X_MINOR = [-4, -3, -2, -1, 1, 2, 3, 4]
Y_TICKS = [-2, 0, 2, 4, 6, 8, 10]
Y_MINOR = [-1.5, -1, -.5, .5, 1, 1.5, 2.5, 3, 3.5, 4.5, 5, 5.5, 6.5, 7, 7.5, 8.5, 9, 9.5]

BLUE_HALO = [(16, "#00ff80"), (11, "#00ffff"), (6, "#0080ff")]
RED_HALO = [(16, "#80ff00"), (11, "#ffff00"), (6, "#ff8000")]
BLUE_WIDE = [(48, "#00ff60"), (40, "#00ff90"), (32, "#00ffc8"), (24, "#00ffff"), (16, "#00b0ff"), (8, "#0060ff")]
RED_WIDE = [(30, "#a0ff00"), (22, "#e0ff00"), (14, "#ffc000"), (7, "#ff6000")]


def polyline_xy(lines, close=False):
    xs, ys = [], []
    for pts in lines:
        pts = list(pts) + [pts[0]] if close else pts
        xs += [p[0] for p in pts] + [None]
        ys += [p[1] for p in pts] + [None]
    return xs, ys


def add_lines(fig, lines, close=False, width=3, shape="spline", color="black"):
    xs, ys = polyline_xy(lines, close)
    fig.add_trace(go.Scatter(x=xs, y=ys, mode="lines", line=dict(color=color, width=width, shape=shape, smoothing=.8), hoverinfo="skip"))


def add_patch(fig, pts, color, shape="spline"):
    xs, ys = polyline_xy([pts], True)
    fig.add_trace(go.Scatter(x=xs[:-1], y=ys[:-1], mode="lines", fill="toself", fillcolor=color, line=dict(color=color, width=1, shape=shape, smoothing=.8), hoverinfo="skip"))


fig = go.Figure()

fig.add_trace(go.Heatmap(
    x=GRID_X, y=GRID_Y, z=FIELD, zmin=-10, zmax=10, zsmooth="best", showscale=False, hoverinfo="skip",
    colorscale=[[0, "#0000ff"], [.25, "#00ffff"], [.5, "#00ff00"], [.75, "#ffff00"], [1, "#ff0000"]],
))

patches = [
    (BLUE_TOP, "#0000ff", BLUE_WIDE), (RED_MID, "#ff0000", RED_WIDE),
    (BLUE_UP, "#0000ff", BLUE_WIDE[3:]), (BLUE_LOW, "#0000ff", BLUE_WIDE[2:]),
    (RED_BIG, "#ff0000", RED_HALO), (BLUE_NECK, "#0000ff", BLUE_HALO), (BLUE_LENS, "#0000ff", BLUE_HALO),
    (BLUE_BASE, "#0000ff", BLUE_HALO), (BLUE_RIBBON, "#0000ff", BLUE_HALO), (RED_RIBBON, "#ff0000", RED_HALO),
]
for pts, colour, halo in patches:
    for w, c in halo:
        add_lines(fig, [pts], close=True, width=w, color=c)
for pts, colour, halo in patches:
    add_patch(fig, pts, colour)
for w, c in [(9, "#00ffff"), (6, "#80ff40"), (3, "#ffc000")]:
    add_lines(fig, [RED_CAP], close=True, width=w, color=c)
add_patch(fig, RED_CAP, "#ff0000")

for group in (DENSE_MID, DENSE_HATCH, DENSE_BAND, DENSE_NECK, DENSE_LENS, DENSE_SPIRAL, DENSE_RIGHT, DENSE_LEFT):
    add_patch(fig, group, "black")

add_lines(fig, CLOSED_TOP, close=True)
add_lines(fig, CLOSED_MID, close=True)
for group in (OPEN_TOP, OPEN_MID, OPEN_LOBES, OPEN_NECK, OPEN_BASE, DASH_TOP, DASH_MID, DASH_LOW):
    add_lines(fig, group)
add_lines(fig, THICK_SPURS, width=6)
add_lines(fig, BASE_SIDES, width=7)
add_lines(fig, [BASE_RING], width=12)

fig.add_trace(go.Scatter(x=DIAMOND_X, y=DIAMOND_Y, mode="lines", fill="toself", fillcolor="#d3d3d3", line=dict(color="black", width=4.5), hoverinfo="skip"))

axis_font = dict(family="Liberation Sans", size=94, color="black")
fig.update_xaxes(
    range=[-5, 5], showgrid=False, zeroline=False, showline=False,
    ticks="inside", ticklen=38, tickwidth=5, tickcolor="black", tickmode="array", tickvals=X_TICKS, ticktext=[str(v) for v in X_TICKS],
    minor=dict(ticks="inside", ticklen=22, tickwidth=1.5, tickcolor="black", tickmode="array", tickvals=X_MINOR),
    tickfont=axis_font, ticklabelstandoff=-6,
)
fig.update_yaxes(
    range=[-2, 10], showgrid=False, zeroline=False, showline=False,
    ticks="inside", ticklen=40, tickwidth=5, tickcolor="black", tickmode="array", tickvals=Y_TICKS, ticktext=[str(v) for v in Y_TICKS],
    minor=dict(ticks="inside", ticklen=22, tickwidth=1.5, tickcolor="black", tickmode="array", tickvals=Y_MINOR),
    tickfont=axis_font, ticklabelstandoff=23,
)

fig.add_shape(type="rect", xref="paper", yref="paper", x0=0, x1=1, y0=0, y1=1, line=dict(color="black", width=7), layer="above")

# gravity arrow and axis names, placed relative to the plot frame
fig.add_annotation(x=1.0325, y=.7401, ax=0, ay=-347, xref="paper", yref="paper", axref="pixel", ayref="pixel", text="", showarrow=True, arrowhead=2, arrowsize=.8, arrowwidth=5, arrowcolor="black")
fig.add_annotation(x=1.1228, y=.8258, xref="paper", yref="paper", text="g", showarrow=False, font=dict(family="Liberation Sans", size=105, color="black"))
fig.add_annotation(x=.5, y=-.2136, xref="paper", yref="paper", text="<b>X</b>", showarrow=False, font=dict(family="Liberation Sans", size=155, color="black"))
fig.add_annotation(x=-.281, y=.5, xref="paper", yref="paper", text="<b>Y</b>", textangle=-90, showarrow=False, font=dict(family="Liberation Sans", size=160, color="black"))

fig.update_layout(
    width=1682, height=1702, autosize=False, showlegend=False, hovermode=False,
    plot_bgcolor="#00ff00", paper_bgcolor="white",
    margin=dict(l=281.5, r=256.5, t=58.5, b=272, autoexpand=False),
)

fig.write_html("out.html")
